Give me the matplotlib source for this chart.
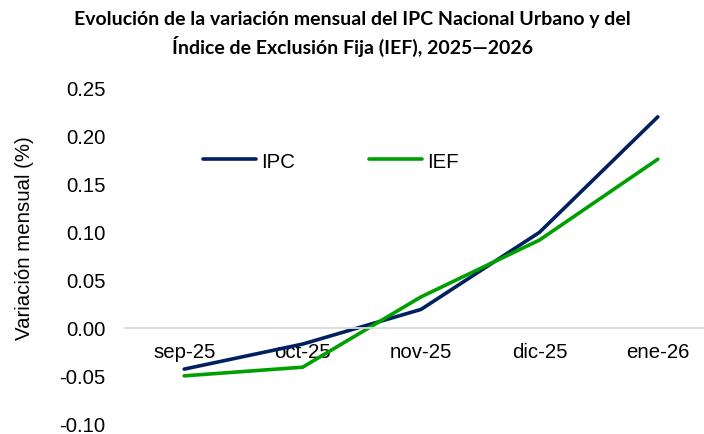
import matplotlib.pyplot as plt
import numpy as np

meses = ["sep-25", "oct-25", "nov-25", "dic-25", "ene-26"]
ipc = [-0.043, -0.017, 0.019, 0.099, 0.219]
ief = [-0.050, -0.041, 0.032, 0.091, 0.175]
yticks = [-0.10, -0.05, 0.00, 0.05, 0.10, 0.15, 0.20, 0.25]

plt.rcParams['font.family'] = ['Liberation Sans', 'DejaVu Sans']
fs = 14.7

W, H = 704, 435
fig = plt.figure(figsize=(W / 100, H / 100), dpi=100)
# plot area in pixels: x 125..717, y 88..425
ax = fig.add_axes([125 / W, 1 - 425 / H, (717 - 125) / W, (425 - 88) / H])

# zero line as the category axis
for s in ["top", "right", "left"]:
    ax.spines[s].set_visible(False)
ax.spines["bottom"].set_position(("data", 0))
ax.spines["bottom"].set_color("#d9d9d9")
ax.spines["bottom"].set_linewidth(1.3)

x = np.arange(len(meses))
ax.plot(x, ipc, color="#002060", lw=2.6, solid_capstyle="round", label="IPC")
ax.plot(x, ief, color="#00a000", lw=2.6, solid_capstyle="round", label="IEF")

ax.set_xlim(-0.5, len(meses) - 0.5)
ax.set_ylim(-0.10, 0.25)
ax.set_yticks(yticks)
ax.set_yticklabels([f"{v:.2f}" for v in yticks])
ax.set_xticks(x)
ax.set_xticklabels(meses)
ax.tick_params(axis="x", length=0, pad=10, labelsize=fs)
ax.tick_params(axis="y", length=0, pad=14, labelsize=fs)

fig.text(25 / W, 1 - 238 / H, "Variación mensual (%)", rotation=90,
         ha="center", va="center", fontsize=fs)

fig.text(0.5, 1 - 34 / H,
         "Evolución de la variación mensual del IPC Nacional Urbano y del\n"
         "Índice de Exclusión Fija (IEF), 2025—2026",
         ha="center", va="center", fontsize=14, fontweight="bold",
         family=["Lato", "DejaVu Sans"], linespacing=1.4)

fig.legend(loc="center left", bbox_to_anchor=(203 / W, 1 - 162 / H),
           ncol=2, frameon=False, fontsize=fs, handlelength=2.6,
           handletextpad=0.25, columnspacing=3.6, borderpad=0, borderaxespad=0)

fig.savefig("out.png", dpi=100)
